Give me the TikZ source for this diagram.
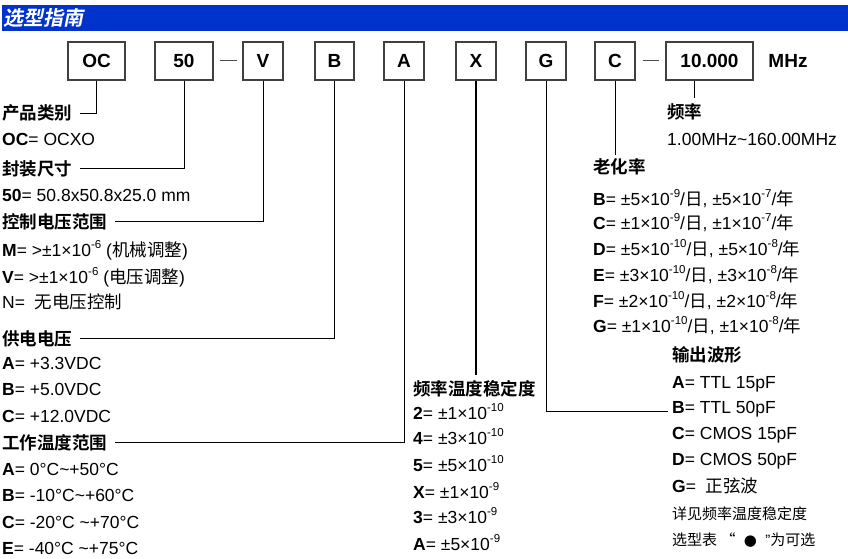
\documentclass[tikz,border=0pt]{standalone}
\usepackage{fontspec}
\setmainfont{Liberation Sans}
\newfontfamily\cjk[BoldFont={Noto Sans CJK SC Bold}]{Noto Sans CJK SC}
\newfontfamily\cjkti[FakeSlant=0.2]{Noto Sans CJK SC Bold}
\newfontfamily\symf{DejaVu Sans}
\newcommand\zh[1]{{\cjk #1}}
\newcommand\hd[1]{{\cjk\bfseries #1}}
\newcommand\ex[1]{\raisebox{0.42em}{\fontsize{11.5}{11.5}\selectfont #1}}
\definecolor{titleblue}{HTML}{0033CC}
\begin{document}
\begin{tikzpicture}[x=1pt,y=-1pt,
  box/.style={draw=black!75, line width=1.2pt, minimum width=#1, minimum height=38pt, inner sep=0pt,
    font=\fontsize{19}{19}\selectfont\bfseries},
  t/.style={anchor=base west, inner sep=0pt, font=\fontsize{17.5}{17.5}\selectfont},
  ts/.style={anchor=base west, inner sep=0pt, font=\fontsize{15}{15}\selectfont},
  conn/.style={draw=black, line width=1pt},
  dashline/.style={draw=black!70, line width=1pt}]
\useasboundingbox (0,0) rectangle (848,559);
% title bar
\fill[titleblue] (2,5) rectangle (848,31);
\node[anchor=west, inner sep=0pt, text=white, font=\cjkti\fontsize{20}{20}\selectfont] (title) at (3,18) {选型指南};
% code boxes
\node[box=57pt] (oc) at (96.5,61) {OC};
\node[box=58pt] (b50) at (184,61) {50};
\node[box=40pt] (bv) at (263,61) {V};
\node[box=39pt] (bb) at (334.5,61) {B};
\node[box=40pt] (ba) at (404,61) {A};
\node[box=40pt] (bx) at (476,61) {X};
\node[box=40pt] (bg) at (546,61) {G};
\node[box=40pt] (bc) at (615,61) {C};
\node[box=87pt] (bf) at (709.5,61) {10.000};
\node[inner sep=0pt, font=\fontsize{19}{19}\selectfont\bfseries] (mhz) at (788,61) {MHz};
\draw[dashline] ([xshift=6pt]b50.east) -- ([xshift=-5pt]bv.west);
\draw[dashline] ([xshift=7pt]bc.east) -- ([xshift=-6pt]bf.west);
% left column
\node[t] (h1) at (2,120) {\hd{产品类别}};
\node[t] (v1) at (2,146) {\textbf{OC}= OCXO};
\node[t] (h2) at (2,175) {\hd{封装尺寸}};
\node[t] (v2) at (2,201) {\textbf{50}= 50.8x50.8x25.0 mm};
\node[t] (h3) at (2,228) {\hd{控制电压范围}};
\node[t] (v3a) at (2,256) {\textbf{M}= >±1×10\ex{-6} (\zh{机械调整})};
\node[t] (v3b) at (2,283) {\textbf{V}= >±1×10\ex{-6} (\zh{电压调整})};
\node[t] (v3c) at (2,308) {N=\ \ \zh{无电压控制}};
\node[t] (h4) at (2,345) {\hd{供电电压}};
\node[t] (v4a) at (2,369) {\textbf{A}= +3.3VDC};
\node[t] (v4b) at (2,395) {\textbf{B}= +5.0VDC};
\node[t] (v4c) at (2,422) {\textbf{C}= +12.0VDC};
\node[t] (h5) at (2,449) {\hd{工作温度范围}};
\node[t] (v5a) at (2,475) {\textbf{A}= 0°C\textasciitilde+50°C};
\node[t] (v5b) at (2,501) {\textbf{B}= -10°C\textasciitilde+60°C};
\node[t] (v5c) at (2,528) {\textbf{C}= -20°C \textasciitilde+70°C};
\node[t] (v5e) at (2,554) {\textbf{E}= -40°C \textasciitilde+75°C};
% middle column
\node[t] (hx) at (413,395) {\hd{频率温度稳定度}};
\node[t] (x1) at (413,419) {\textbf{2}= ±1×10\ex{-10}};
\node[t] (x2) at (413,444) {\textbf{4}= ±3×10\ex{-10}};
\node[t] (x3) at (413,471) {\textbf{5}= ±5×10\ex{-10}};
\node[t] (x4) at (413,498) {\textbf{X}= ±1×10\ex{-9}};
\node[t] (x5) at (413,523) {\textbf{3}= ±3×10\ex{-9}};
\node[t] (x6) at (413,550) {\textbf{A}=\ ±5×10\ex{-9}};
% frequency
\node[t] (fq) at (667,119) {\hd{频率}};
\node[t] (fqv) at (667,146) {1.00MHz\textasciitilde160.00MHz};
% aging
\node[t] (ag) at (593,173) {\hd{老化率}};
\node[t] (ag1) at (593,205) {\textbf{B}= ±5×10\ex{-9}/\zh{日}, ±5×10\ex{-7}/\zh{年}};
\node[t] (ag2) at (593,229) {\textbf{C}= ±1×10\ex{-9}/\zh{日}, ±1×10\ex{-7}/\zh{年}};
\node[t] (ag3) at (593,255) {\textbf{D}= ±5×10\ex{-10}/\zh{日}, ±5×10\ex{-8}/\zh{年}};
\node[t] (ag4) at (593,281) {\textbf{E}= ±3×10\ex{-10}/\zh{日}, ±3×10\ex{-8}/\zh{年}};
\node[t] (ag5) at (593,307) {\textbf{F}= ±2×10\ex{-10}/\zh{日}, ±2×10\ex{-8}/\zh{年}};
\node[t] (ag6) at (593,332) {\textbf{G}= ±1×10\ex{-10}/\zh{日}, ±1×10\ex{-8}/\zh{年}};
% output
\node[t] (ow) at (672,361) {\hd{输出波形}};
\node[t] (oa) at (672,388) {\textbf{A}= TTL 15pF};
\node[t] (ob) at (672,413) {\textbf{B}= TTL 50pF};
\node[t] (oc2) at (672,439) {\textbf{C}= CMOS 15pF};
\node[t] (od) at (672,465) {\textbf{D}= CMOS 50pF};
\node[t] (og) at (672,492) {\textbf{G}=\ \ \zh{正弦波}};
\node[ts] (n1) at (672,519) {\zh{详见频率温度稳定度}};
\node[ts] (n2) at (672,545) {\zh{选型表 “}\ \ {\symf ●}\ \ "\zh{为可选}};
% connectors
\draw[conn] (oc.south) |- ([xshift=8pt]h1.east);
\draw[conn] (b50.south) |- ([xshift=8pt]h2.east);
\draw[conn] (bv.south) |- ([xshift=8pt]h3.east);
\draw[conn] (bb.south) |- ([xshift=8pt]h4.east);
\draw[conn] (ba.south) |- ([xshift=8pt]h5.east);
\draw[conn, line width=2pt] (bx.south) -- ([yshift=5pt]bx.south |- hx.north);
\draw[conn] (bg.south) |- ([xshift=-4pt,yshift=2pt]ob.base west);
\draw[conn] (bc.south) -- ([yshift=3pt]bc.south |- ag.north);
\draw[conn] ([xshift=-15.5pt]bf.south) -- ([xshift=-15.5pt,yshift=6pt]bf.south |- fq.north);
\end{tikzpicture}
\end{document}
